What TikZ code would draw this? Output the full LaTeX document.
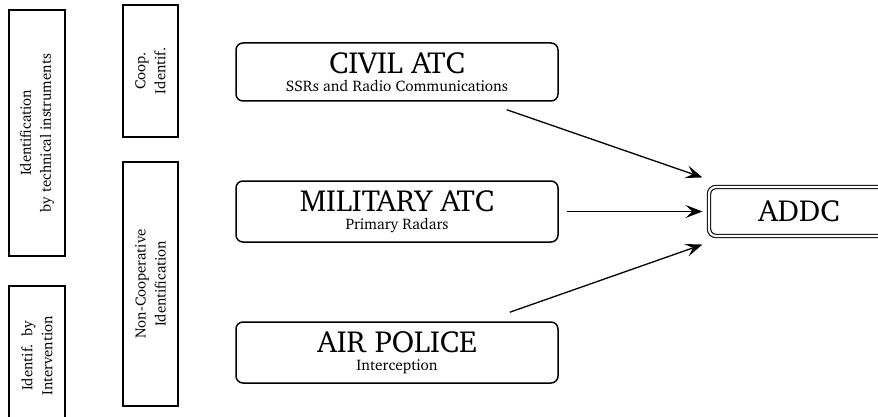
\documentclass[tikz,border=0pt]{standalone}
\usepackage[T1]{fontenc}
\usepackage{charter}
\usetikzlibrary{arrows.meta}
\begin{document}
\begin{tikzpicture}[x=1pt,y=-1pt,
  sidebox/.style={draw, line width=1.5pt, inner sep=0pt},
  sidetext/.style={rotate=90, align=center, inner sep=0pt,
    font=\fontsize{14.8}{20}\selectfont},
  unitbox/.style={draw, line width=1.5pt, rounded corners=7pt, inner sep=0pt,
    minimum width=322pt, align=center, font=\fontsize{15.3}{17.5}\selectfont},
  centrebox/.style={draw, double, line width=1.1pt, double distance=2.2pt,
    rounded corners=7pt, inner sep=0pt, minimum width=180pt, minimum height=49pt,
    font=\fontsize{30.5}{32}\selectfont},
  feed/.style={line width=1.3pt, -{Stealth[length=17pt, width=13pt, inset=7pt]}}
]
\useasboundingbox (0,0) rectangle (878,417);

% identification categories (rotated labels)
\node[sidebox, minimum width=56pt, minimum height=246pt] (tech) at (37,133) {};
\node[sidetext] (techtxt) at (tech.center) {Identification\\by technical instruments};
\node[sidebox, minimum width=56pt, minimum height=140pt] (interv) at (37,356) {};
\node[sidetext] (intervtxt) at (interv.center) {Identif.~~by\\Intervention};
\node[sidebox, minimum width=55pt, minimum height=132pt] (coop) at (150.5,71) {};
\node[sidetext] (cooptxt) at (coop.center) {Coop.\\Identif.};
\node[sidebox, minimum width=55pt, minimum height=244pt] (noncoop) at (150.5,284) {};
\node[sidetext] (noncooptxt) at (noncoop.center) {Non-Cooperative\\Identification};

% information sources
\node[unitbox, minimum height=58pt] (civil) at (397,72)
  {{\fontsize{30.5}{32}\selectfont CIVIL ATC}\\SSRs and Radio Communications};
\node[unitbox, minimum height=61pt] (military) at (397,211.5)
  {{\fontsize{30.5}{32}\selectfont MILITARY ATC}\\Primary Radars};
\node[unitbox, minimum height=61pt] (police) at (397,352.5)
  {{\fontsize{30.5}{32}\selectfont AIR POLICE}\\Interception};

% air defence direction centre
\node[centrebox] (addc) at (799,211.5) {ADDC};

% data flows
\draw[feed] ([shift={(-52,8)}]civil.south east) -- ([shift={(-6,-9)}]addc.north west);
\draw[feed] ([shift={(8,0)}]military.east) -- ([shift={(-6,0)}]addc.west);
\draw[feed] ([shift={(-49,-9)}]police.north east) -- ([shift={(-6,8)}]addc.south west);
\end{tikzpicture}
\end{document}
